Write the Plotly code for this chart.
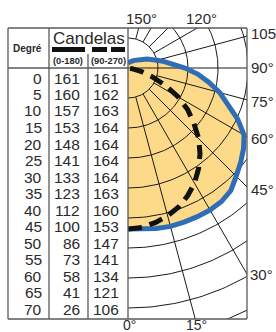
import numpy as np
import plotly.graph_objects as go

W, H = 276, 332

# ---- data ----
deg_rows = [0, 5, 10, 15, 20, 25, 30, 35, 40, 45, 50, 55, 60, 65, 70]
cd_0_180 = [161, 160, 157, 153, 148, 141, 133, 123, 112, 100, 86, 73, 58, 41, 26]
cd_90_270 = [161, 162, 163, 164, 164, 164, 164, 163, 160, 153, 147, 141, 134, 121, 106]

# continuation of the curves beyond the table (estimated from the diagram)
ext_ang_0_180 = [75, 80, 85]
ext_cd_0_180 = [14, 4, 0]
ext_ang_90_270 = [75, 80, 85, 90, 95, 100, 105, 110, 115, 120, 130, 140, 150, 160, 170, 180]
ext_cd_90_270 = [95, 82, 70, 57, 46, 37, 30, 25, 21, 17, 13, 10, 8, 6, 5, 5]

circle_radii = [30, 60, 90, 120, 150, 180, 210, 240, 270]
ray_angles = [15, 30, 45, 60, 75, 105, 120, 135, 150, 165]

angle_labels = ["150°", "120°", "105", "90°", "75°", "60°", "45°", "30°", "0°", "15°"]

# ---- geometry helpers ----
def px(x):
    return x / W

def py(y):
    return 1 - y / H

def to_xy(ang, r):
    a = np.radians(np.asarray(ang, dtype=float))
    r = np.asarray(r, dtype=float)
    return r * np.sin(a), -r * np.cos(a)

fill_c = "#FDD98A"
blue_c = "#2F6EB5"
grid_c = "#1a1a1a"
txt_c = "#2a2a2a"
frame_c = "#5a5a5a"

fig = go.Figure()

# curve 90-270 (fill + blue line)
ang_b = deg_rows + ext_ang_90_270
cd_b = cd_90_270 + ext_cd_90_270
bx, by = to_xy(ang_b, cd_b)
fig.add_trace(go.Scatter(x=np.r_[0, bx, 0], y=np.r_[0, by, 0], mode="lines",
                         fill="toself", fillcolor=fill_c, line=dict(width=0),
                         hoverinfo="skip", showlegend=False))

# grid circles
gx, gy = [], []
t = np.linspace(0, 180, 181)
for r in circle_radii:
    cx, cy = to_xy(t, np.full_like(t, r))
    gx += list(cx) + [None]
    gy += list(cy) + [None]
# rays
for a in ray_angles:
    rx, ry = to_xy([a, a], [30, 400])
    gx += list(rx) + [None]
    gy += list(ry) + [None]
rx, ry = to_xy([90, 90], [0, 400])
gx += list(rx) + [None]
gy += list(ry) + [None]
fig.add_trace(go.Scatter(x=gx, y=gy, mode="lines", line=dict(color=grid_c, width=1),
                         hoverinfo="skip", showlegend=False))

fig.add_trace(go.Scatter(x=bx, y=by, mode="lines", line=dict(color=blue_c, width=5),
                         hoverinfo="skip", showlegend=False))

# curve 0-180 (dashed black)
ang_k = deg_rows + ext_ang_0_180
cd_k = cd_0_180 + ext_cd_0_180
kx, ky = to_xy(ang_k, cd_k)
fig.add_trace(go.Scatter(x=kx, y=ky, mode="lines",
                         line=dict(color="#111111", width=5, dash="14px,8px"),
                         hoverinfo="skip", showlegend=False))

# ---- layout ----
X0, X1, Y0, Y1 = 128, 247, 28, 319   # diagram box (px)
CY = 68                              # centre row (px)
fig.update_layout(
    width=W, height=H, margin=dict(l=0, r=0, t=0, b=0),
    paper_bgcolor="white", plot_bgcolor="white",
    xaxis=dict(domain=[px(X0), px(X1)], range=[0, X1 - X0], visible=False, fixedrange=True),
    yaxis=dict(domain=[py(Y1), py(Y0)], range=[-(Y1 - CY), CY - Y0], visible=False, fixedrange=True),
    font=dict(family="Liberation Sans, Arial, sans-serif", color=txt_c),
)

shapes = []
def hline(x0, x1, y, w=1.3, c=frame_c):
    shapes.append(dict(type="line", xref="paper", yref="paper", x0=px(x0), x1=px(x1),
                       y0=py(y), y1=py(y), line=dict(color=c, width=w)))

def vline(x, y0, y1, w=1.3, c=frame_c):
    shapes.append(dict(type="line", xref="paper", yref="paper", x0=px(x), x1=px(x),
                       y0=py(y0), y1=py(y1), line=dict(color=c, width=w)))

TL = 8
hline(TL, X1, Y0)
hline(TL, X1, Y1)
hline(TL, X0, 68)
vline(TL, Y0, Y1)
vline(49, Y0, Y1)
vline(88, 54, Y1)
vline(X0, Y0, Y1)
vline(X1, Y0, Y1)
# legend bars under "Candelas"
hline(52, 85, 49.5, w=5, c="#111111")
hline(92, 107, 49.5, w=5, c="#111111")
hline(111, 125, 49.5, w=5, c="#111111")

ann = []
def text(x, y, s, size, xanchor="center", bold=False):
    ann.append(dict(x=px(x), y=py(y), xref="paper", yref="paper", text=("<b>%s</b>" % s) if bold else s,
                    showarrow=False, xanchor=xanchor, yanchor="middle",
                    font=dict(size=size, color=txt_c), borderpad=0))

text(27, 48.5, "Degré", 10, bold=True)
text(88.5, 38.5, "Candelas", 17)
text(68, 61, "(0-180)", 9.3, bold=True)
text(108, 61, "(90-270)", 9.3, bold=True)

for i, d in enumerate(deg_rows):
    yy = 78 + 16.5 * i
    text(43, yy, str(d), 15.5, xanchor="right")
    text(80.5, yy, str(cd_0_180[i]), 15.5, xanchor="right")
    text(119.5, yy, str(cd_90_270[i]), 15.5, xanchor="right")

# angle labels around the diagram
lab_pos = [(141, 18, "center"), (201, 18, "center"), (250, 33, "left"), (250, 67, "left"),
           (250, 101, "left"), (250, 138, "left"), (250, 189, "left"), (249, 274, "left"),
           (129, 325, "center"), (196, 325, "center")]
for (x, y, xa), s in zip(lab_pos, angle_labels):
    text(x, y, s, 14 if y > 300 else 15, xanchor=xa)

fig.update_layout(shapes=shapes, annotations=ann)
fig.write_html("out.html", config={"displayModeBar": False},
               post_script="document.body.style.margin='0px';")
